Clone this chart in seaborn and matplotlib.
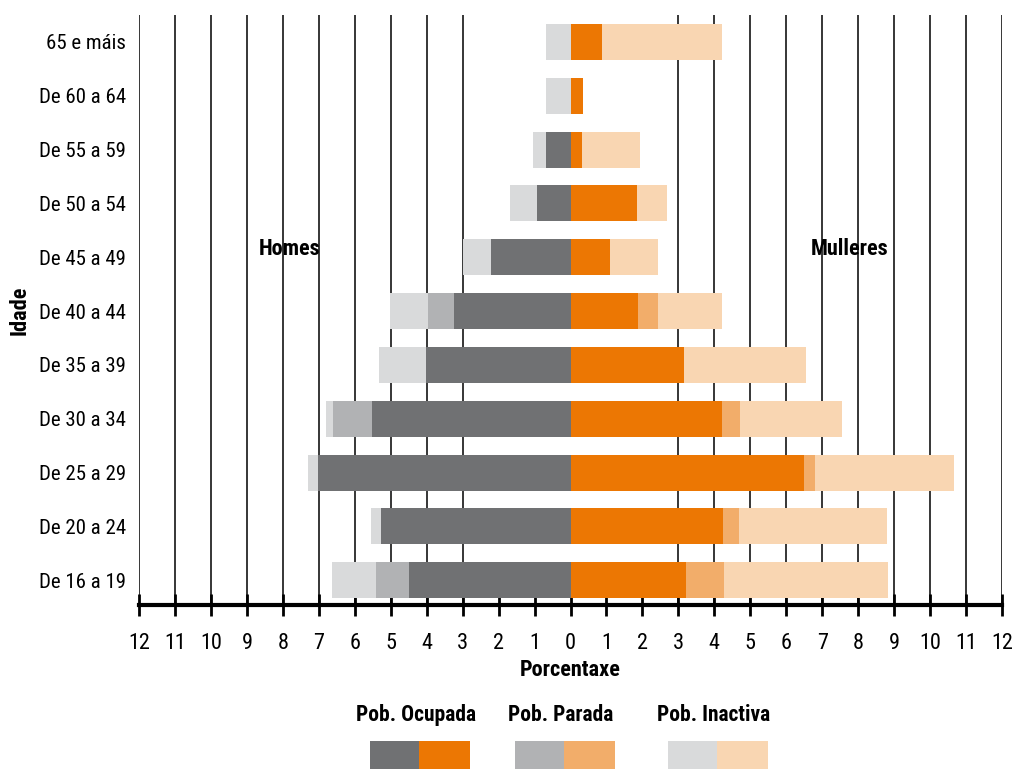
import numpy as np
import pandas as pd
import seaborn as sns
import matplotlib.pyplot as plt
from matplotlib.patches import Rectangle
from matplotlib import font_manager

# datos (porcentaxe)
idades = ['65 e máis', 'De 60 a 64', 'De 55 a 59', 'De 50 a 54', 'De 45 a 49',
          'De 40 a 44', 'De 35 a 39', 'De 30 a 34', 'De 25 a 29', 'De 20 a 24',
          'De 16 a 19']
homes_ocupada = [0.0, 0.0, 0.67, 0.92, 2.22, 3.25, 4.03, 5.53, 7.03, 5.28, 4.50]
homes_parada = [0.0, 0.0, 0.0, 0.0, 0.0, 0.72, 0.0, 1.08, 0.0, 0.0, 0.92]
homes_inactiva = [0.69, 0.67, 0.36, 0.77, 0.76, 1.06, 1.30, 0.20, 0.28, 0.28, 1.22]
mulleres_ocupada = [0.87, 0.36, 0.33, 1.86, 1.11, 1.89, 3.17, 4.22, 6.50, 4.25, 3.22]
mulleres_parada = [0.0, 0.0, 0.0, 0.0, 0.0, 0.55, 0.0, 0.50, 0.31, 0.44, 1.06]
mulleres_inactiva = [3.35, 0.0, 1.61, 0.81, 1.33, 1.78, 3.39, 2.84, 3.86, 4.12, 4.55]

ticks = list(range(-12, 13))
tick_labels = [str(abs(t)) for t in ticks]

cores_homes = ['#707173', '#b1b2b4', '#d9dadb']
cores_mulleres = ['#ec7703', '#f2ad6a', '#f9d6b2']

# fonte estreita se hai algunha
fontes = set(f.name for f in font_manager.fontManager.ttflist)
fonte = 'Liberation Sans'
for cand in ['Roboto Condensed', 'Archivo Narrow', 'Liberation Sans Narrow', 'PT Sans Narrow',
             'Open Sans Condensed', 'Encode Sans Condensed']:
    if cand in fontes:
        fonte = cand
        break

sns.set_style('white')
plt.rcParams['font.family'] = [fonte, 'DejaVu Sans']
plt.rcParams['text.color'] = 'black'
plt.rcParams['axes.labelcolor'] = 'black'
plt.rcParams['xtick.color'] = 'black'
plt.rcParams['ytick.color'] = 'black'

df = pd.DataFrame({'idade': idades,
                   'h_oc': homes_ocupada, 'h_pa': homes_parada, 'h_in': homes_inactiva,
                   'm_oc': mulleres_ocupada, 'm_pa': mulleres_parada, 'm_in': mulleres_inactiva})
df['h1'] = -df['h_oc']
df['h2'] = -(df['h_oc'] + df['h_pa'])
df['h3'] = -(df['h_oc'] + df['h_pa'] + df['h_in'])
df['m1'] = df['m_oc']
df['m2'] = df['m_oc'] + df['m_pa']
df['m3'] = df['m_oc'] + df['m_pa'] + df['m_in']

fig = plt.figure(figsize=(10.16, 7.69), dpi=100)
ax = fig.add_axes([139 / 1016, 1 - 605 / 769, 863 / 1016, 590 / 769])

# liñas verticais (só de 3 en adiante)
for t in ticks:
    if abs(t) >= 3:
        ax.axvline(t, color='black', lw=1.1, zorder=0)

# barras apiladas: primeiro o total, logo enriba as partes
for col, cor in zip(['h3', 'h2', 'h1'], cores_homes[::-1]):
    sns.barplot(data=df, x=col, y='idade', order=idades, color=cor, width=0.67,
                saturation=1, linewidth=0, ax=ax, zorder=2)
for col, cor in zip(['m3', 'm2', 'm1'], cores_mulleres[::-1]):
    sns.barplot(data=df, x=col, y='idade', order=idades, color=cor, width=0.67,
                saturation=1, linewidth=0, ax=ax, zorder=2)

ax.set_xlim(-12, 12)
ax.set_ylim(10.46, -0.5)
ax.set_xticks(ticks)
ax.set_xticklabels(tick_labels, fontsize=16)
ax.tick_params(axis='x', bottom=True, direction='inout', length=16, width=2,
               color='black', pad=12)
ax.tick_params(axis='y', left=False, labelsize=15, pad=6)
ax.set_xlabel('Porcentaxe', fontsize=16, fontweight='bold', labelpad=4)
ax.set_ylabel('Idade', fontsize=16, fontweight='bold', labelpad=6)

for s in ['top', 'right', 'left']:
    ax.spines[s].set_visible(False)
ax.spines['bottom'].set_linewidth(3)
ax.spines['bottom'].set_color('black')

ax.text(-7.8, 3.85, 'Homes', fontsize=16, fontweight='bold', ha='center', va='center')
ax.text(7.75, 3.85, 'Mulleres', fontsize=16, fontweight='bold', ha='center', va='center')

# lenda
W, H = 1016, 769
lenda = [('Pob. Ocupada', 370, 0), ('Pob. Parada', 515, 1), ('Pob. Inactiva', 668, 2)]
for texto, x0, i in lenda:
    fig.text((x0 + 46) / W, 1 - 715 / H, texto, fontsize=15.5, fontweight='bold',
             ha='center', va='center')
    fig.patches.append(Rectangle((x0 / W, 0), 49 / W, 28 / H, transform=fig.transFigure,
                                 facecolor=cores_homes[i], edgecolor='none'))
    fig.patches.append(Rectangle(((x0 + 49) / W, 0), 51 / W, 28 / H, transform=fig.transFigure,
                                 facecolor=cores_mulleres[i], edgecolor='none'))

fig.savefig('out.png', dpi=100)
